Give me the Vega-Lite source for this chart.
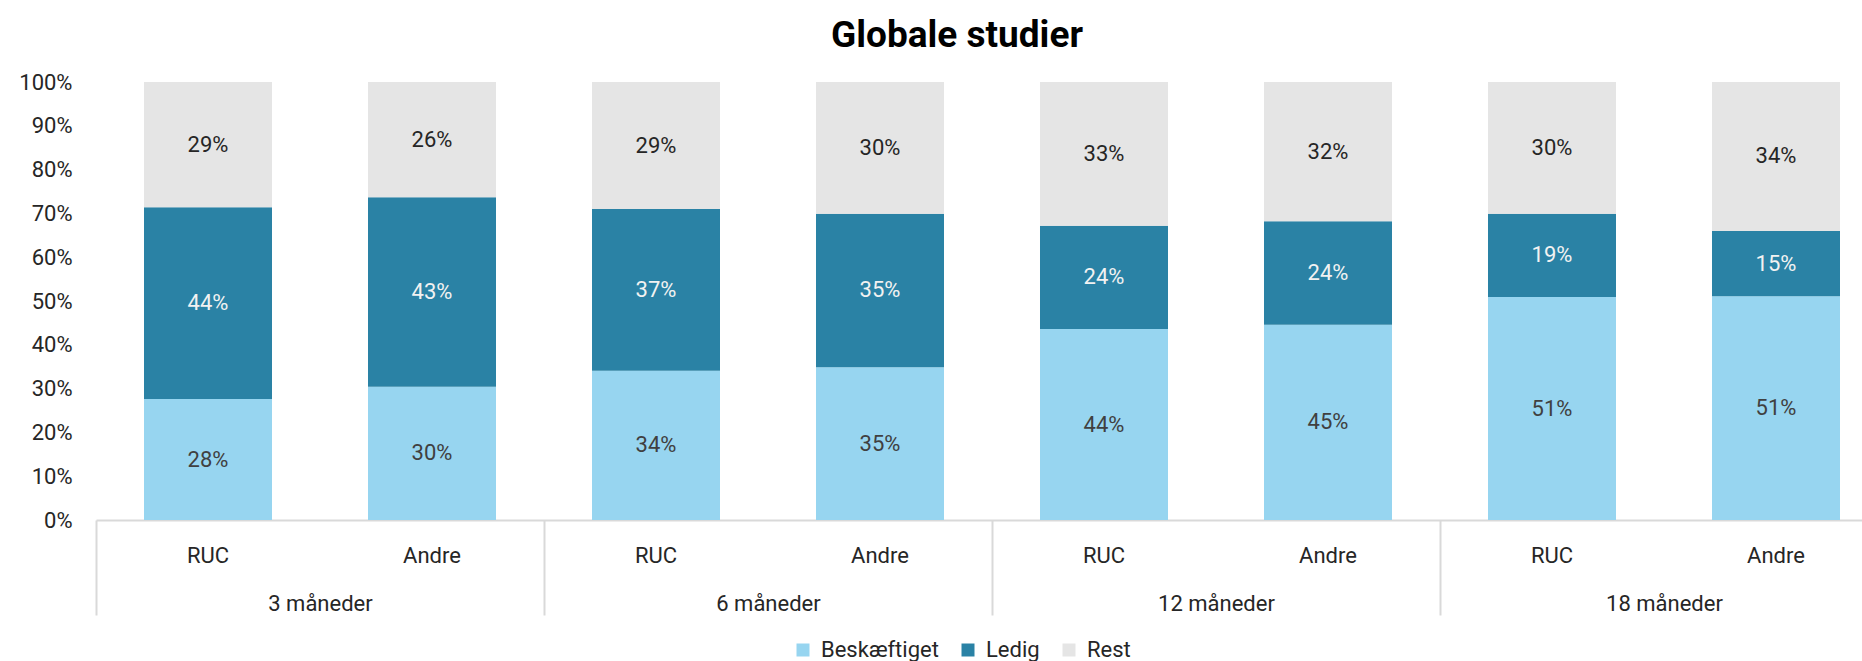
{
  "$schema": "https://vega.github.io/schema/vega-lite/v6.json",
  "width": 1766,
  "height": 438,
  "autosize": {"type": "none"},
  "padding": {"left": 96, "top": 82, "right": 0, "bottom": 141},
  "background": "#ffffff",
  "title": {"text": "Globale studier", "font": "Roboto", "fontSize": 37, "fontWeight": "bold", "color": "#000000", "anchor": "middle", "dx": -22, "baseline": "alphabetic", "offset": -13},
  "config": {"view": {"stroke": null}, "font": "Roboto"},
  "data": {"values": [
    {"period": "3 måneder", "school": "RUC", "bar": "3 måneder|RUC", "type": "Beskæftiget", "order": 1, "value": 0.276},
    {"period": "3 måneder", "school": "RUC", "bar": "3 måneder|RUC", "type": "Ledig", "order": 2, "value": 0.438},
    {"period": "3 måneder", "school": "RUC", "bar": "3 måneder|RUC", "type": "Rest", "order": 3, "value": 0.286},
    {"period": "3 måneder", "school": "Andre", "bar": "3 måneder|Andre", "type": "Beskæftiget", "order": 1, "value": 0.304},
    {"period": "3 måneder", "school": "Andre", "bar": "3 måneder|Andre", "type": "Ledig", "order": 2, "value": 0.433},
    {"period": "3 måneder", "school": "Andre", "bar": "3 måneder|Andre", "type": "Rest", "order": 3, "value": 0.263},
    {"period": "6 måneder", "school": "RUC", "bar": "6 måneder|RUC", "type": "Beskæftiget", "order": 1, "value": 0.341},
    {"period": "6 måneder", "school": "RUC", "bar": "6 måneder|RUC", "type": "Ledig", "order": 2, "value": 0.369},
    {"period": "6 måneder", "school": "RUC", "bar": "6 måneder|RUC", "type": "Rest", "order": 3, "value": 0.290},
    {"period": "6 måneder", "school": "Andre", "bar": "6 måneder|Andre", "type": "Beskæftiget", "order": 1, "value": 0.349},
    {"period": "6 måneder", "school": "Andre", "bar": "6 måneder|Andre", "type": "Ledig", "order": 2, "value": 0.350},
    {"period": "6 måneder", "school": "Andre", "bar": "6 måneder|Andre", "type": "Rest", "order": 3, "value": 0.301},
    {"period": "12 måneder", "school": "RUC", "bar": "12 måneder|RUC", "type": "Beskæftiget", "order": 1, "value": 0.436},
    {"period": "12 måneder", "school": "RUC", "bar": "12 måneder|RUC", "type": "Ledig", "order": 2, "value": 0.236},
    {"period": "12 måneder", "school": "RUC", "bar": "12 måneder|RUC", "type": "Rest", "order": 3, "value": 0.328},
    {"period": "12 måneder", "school": "Andre", "bar": "12 måneder|Andre", "type": "Beskæftiget", "order": 1, "value": 0.446},
    {"period": "12 måneder", "school": "Andre", "bar": "12 måneder|Andre", "type": "Ledig", "order": 2, "value": 0.236},
    {"period": "12 måneder", "school": "Andre", "bar": "12 måneder|Andre", "type": "Rest", "order": 3, "value": 0.318},
    {"period": "18 måneder", "school": "RUC", "bar": "18 måneder|RUC", "type": "Beskæftiget", "order": 1, "value": 0.509},
    {"period": "18 måneder", "school": "RUC", "bar": "18 måneder|RUC", "type": "Ledig", "order": 2, "value": 0.190},
    {"period": "18 måneder", "school": "RUC", "bar": "18 måneder|RUC", "type": "Rest", "order": 3, "value": 0.301},
    {"period": "18 måneder", "school": "Andre", "bar": "18 måneder|Andre", "type": "Beskæftiget", "order": 1, "value": 0.511},
    {"period": "18 måneder", "school": "Andre", "bar": "18 måneder|Andre", "type": "Ledig", "order": 2, "value": 0.149},
    {"period": "18 måneder", "school": "Andre", "bar": "18 måneder|Andre", "type": "Rest", "order": 3, "value": 0.340}
  ]},
  "transform": [
    {"stack": "value", "groupby": ["bar"], "sort": [{"field": "order", "order": "ascending"}], "as": ["y0", "y1"]},
    {"calculate": "(datum.y0 + datum.y1) / 2", "as": "ymid"}
  ],
  "layer": [
    {
      "layer": [
        {
          "mark": {"type": "bar"},
          "encoding": {
            "x": {
              "field": "bar", "type": "nominal",
              "scale": {"type": "band", "domain": ["3 måneder|RUC", "3 måneder|Andre", "6 måneder|RUC", "6 måneder|Andre", "12 måneder|RUC", "12 måneder|Andre", "18 måneder|RUC", "18 måneder|Andre"], "range": [0, 1792], "paddingInner": 0.428571, "paddingOuter": 0.214286},
              "axis": {"orient": "bottom", "title": null, "domain": true, "domainColor": "#D9D9D9", "domainWidth": 2, "ticks": false, "tickSize": 0, "labelExpr": "split(datum.value, '|')[1]", "labelPadding": 42, "labelBaseline": "alphabetic", "labelFontSize": 22, "labelColor": "#262626", "labelAngle": 0, "labelOverlap": false}
            },
            "y": {
              "field": "y0", "type": "quantitative",
              "scale": {"domain": [0, 1], "nice": false},
              "axis": {"title": null, "domain": false, "ticks": false, "tickSize": 0, "grid": false, "values": [0, 0.1, 0.2, 0.3, 0.4, 0.5, 0.6, 0.7, 0.8, 0.9, 1], "format": ".0%", "labelPadding": 24, "labelFontSize": 22, "labelColor": "#262626"}
            },
            "y2": {"field": "y1"},
            "color": {
              "field": "type", "type": "nominal",
              "scale": {"domain": ["Beskæftiget", "Ledig", "Rest"], "range": ["#97D5F0", "#2A82A5", "#E5E5E5"]},
              "legend": {"title": null, "orient": "none", "direction": "horizontal", "legendX": 696, "legendY": 557, "symbolType": "square", "symbolSize": 169, "symbolStrokeWidth": 0, "symbolOpacity": 1, "labelFontSize": 22, "labelColor": "#262626", "columnPadding": 18, "labelOffset": 7}
            }
          }
        },
        {
          "mark": {"type": "text", "fontSize": 22, "baseline": "middle", "align": "center"},
          "encoding": {
            "x": {"field": "bar", "type": "nominal"},
            "y": {"field": "ymid", "type": "quantitative"},
            "text": {"field": "value", "type": "quantitative", "format": ".0%"},
            "color": {"condition": [{"test": "datum.type === 'Ledig'", "value": "#F2F2F2"}, {"test": "datum.type === 'Rest'", "value": "#262626"}], "value": "#404040"}
          }
        }
      ]
    },
    {
      "mark": {"type": "rule", "opacity": 0},
      "encoding": {
        "x": {
          "field": "period", "type": "nominal",
          "scale": {"type": "band", "domain": ["3 måneder", "6 måneder", "12 måneder", "18 måneder"], "range": [0, 1792], "paddingInner": 0, "paddingOuter": 0},
          "axis": {"orient": "bottom", "title": null, "domain": false, "tickBand": "extent", "tickSize": 95, "tickColor": "#D9D9D9", "tickWidth": 2, "labelPadding": -5, "labelBaseline": "alphabetic", "labelFontSize": 22, "labelColor": "#262626", "labelAngle": 0, "labelOverlap": false}
        }
      }
    }
  ],
  "resolve": {"scale": {"x": "independent"}, "axis": {"x": "independent"}}
}
